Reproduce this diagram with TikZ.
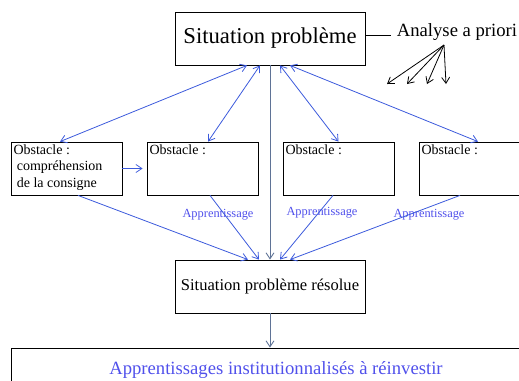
\documentclass[tikz,border=0pt]{standalone}
\usepackage{fontspec}
\setmainfont{Liberation Serif}
\usetikzlibrary{calc,arrows.meta}
\definecolor{bleu}{RGB}{60,90,220}
\definecolor{bleutexte}{RGB}{80,80,235}
\definecolor{ardoise}{RGB}{95,115,150}
\begin{document}
\begin{tikzpicture}
[x=0.75pt,y=-0.75pt,>={Straight Barb[length=4.5pt,width=6pt]},
  boxdecorate/.style={shape=rectangle,draw,line width=0.6pt,inner sep=2pt},
  obstacledecorate/.style={boxdecorate,minimum width=83.25pt,minimum height=39.75pt},
  situationdecorate/.style={boxdecorate,minimum width=142.5pt,minimum height=39.75pt},
  textdecorate/.style={anchor=north west,inner sep=2pt,align=left,
    font=\fontsize{10.5}{12.4}\selectfont},
  labeldecorate/.style={text=bleutexte,inner sep=0pt,font=\fontsize{9.3}{11}\selectfont},
  linkdecorate/.style={<->,bleu,line width=0.6pt},
  learndecorate/.style={->,bleu,line width=0.6pt},
  verticaldecorate/.style={->,ardoise,line width=0.7pt},
  prioridecorate/.style={->,line width=0.6pt}]
\useasboundingbox (0,0) rectangle (519,380);
%% nodes or vertices
\node (sp) at (270,38.5) [situationdecorate,font=\fontsize{17}{20}\selectfont]
  {Situation problème};
\node (spr) at (270,286.5) [situationdecorate,font=\fontsize{12.4}{15}\selectfont]
  {Situation problème résolue};
\node (air) at (276,370) [boxdecorate,minimum width=397.5pt,minimum height=33pt,
  text=bleutexte,font=\fontsize{14}{17}\selectfont]
  {Apprentissages institutionnalisés à réinvestir};
\foreach \nodename/\x/\content in {oa/66.5/{Obstacle :\\\hspace*{2.5pt}compréhension\\\hspace*{2.5pt}de la consigne},
  ob/202.5/{Obstacle :}, oc/338.5/{Obstacle :}, od/474.5/{Obstacle :}}
{
  \node (\nodename) at (\x,168.5) [obstacledecorate] {};
  \node (\nodename text) at (\nodename.north west) [textdecorate] {\content};
}
\foreach \nodename/\x/\y in {la/218/215, lb/322/213, lc/429/215}
{
  \node (\nodename) at (\x,\y) [labeldecorate] {Apprentissage};
}
\node (ap) at (457,32) [font=\fontsize{14}{17}\selectfont] {Analyse a priori};
\coordinate (apline) at (391,35);
\coordinate (src) at (444,45);
\foreach \nodename/\x in {ta/387, tb/407, tc/427, td/446}
{
  \coordinate (\nodename) at (\x,84);
}
%% edges or lines
\foreach \startshift/\endnode/\endshift in {-23/oa/-6.5, -10/ob/5.5, 10/oc/0, 20/od/3.5}
{
  \draw [linkdecorate] ($(sp.south)+(\startshift,0)$) -- ($(\endnode.north)+(\endshift,0)$);
}
\foreach \startnode/\startshift/\endshift in {oa/11.5/-22, ob/7.5/-11, oc/-5.5/10, od/-14.5/20}
{
  \draw [learndecorate] ($(\startnode.south)+(\startshift,0)$) -- ($(spr.north)+(\endshift,0)$);
}
\draw [learndecorate,shorten >=3pt] (oa.east) -- (ob.west);
\draw [verticaldecorate] (sp.south) -- (spr.north);
\draw [verticaldecorate] (spr.south) -- (spr.south |- air.north);
\draw [line width=0.6pt] (sp.east |- apline) -- (apline);
\foreach \endnode in {ta, tb, tc, td}
{
  \draw [prioridecorate] (src) -- (\endnode);
}
\end{tikzpicture}
\end{document}
